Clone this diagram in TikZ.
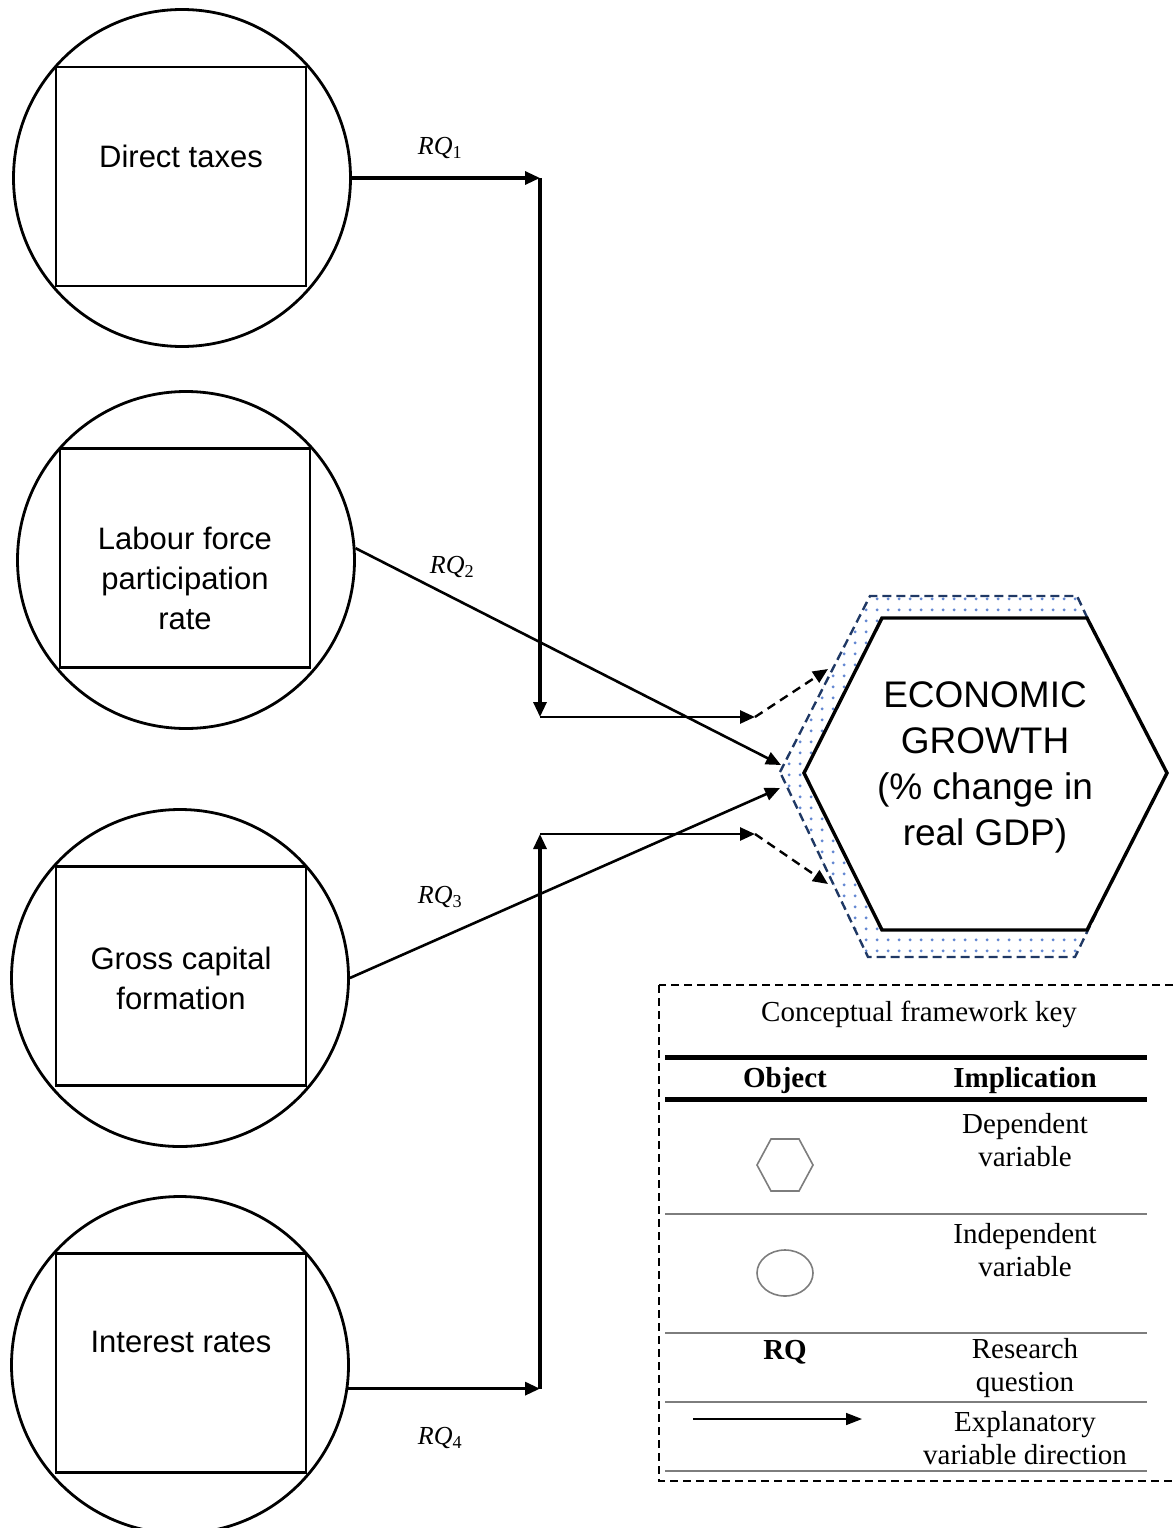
\documentclass[tikz,border=0pt]{standalone}
\usepackage{fontspec}
\setmainfont{Liberation Serif}
\setsansfont{Liberation Sans}
\usepackage{tikz}
\usetikzlibrary{arrows.meta,positioning,calc,patterns.meta}
\definecolor{hexnavy}{RGB}{31,56,100}
\definecolor{dotblue}{RGB}{100,136,210}
\definecolor{keygray}{RGB}{125,125,125}
\tikzdeclarepattern{
  name=gdots,
  type=colored,
  bounding box={(0pt,0pt) and (10.6pt,10.6pt)},
  tile size={(10.6pt,10.6pt)},
  code={\fill[dotblue] (5.3pt,5.3pt) circle (1.6pt);}
}
\tikzset{
  ivar/.style={circle, draw, line width=2.8pt, minimum size=337pt, inner sep=0pt},
  vbox/.style={draw, line width=2.2pt, minimum width=250pt, minimum height=219pt, inner sep=0pt},
  vtxt/.style={font=\sffamily\fontsize{31}{40}\selectfont, align=center, inner sep=0pt},
  rqa/.style={-{Triangle[length=15pt, width=13pt]}, line width=3.2pt},
  rqd/.style={rqa, line width=2.4pt, dash pattern=on 9pt off 6pt},
  rql/.style={font=\fontsize{26}{30}\selectfont, inner sep=0pt},
  hexout/.style={hexnavy, line width=2.4pt, dash pattern=on 9pt off 5pt, pattern=gdots},
  hexin/.style={draw=black, fill=white, line width=3.4pt, line join=miter},
  egtxt/.style={font=\sffamily\fontsize{37}{46}\selectfont, align=center, inner sep=0pt},
  ktxt/.style={font=\fontsize{29}{33}\selectfont, align=center, inner sep=0pt},
  kbold/.style={ktxt, font=\fontsize{29}{33}\selectfont\bfseries},
  krule/.style={keygray, line width=2pt},
  kthick/.style={line width=5pt},
  kicon/.style={keygray, line width=1.6pt},
  karr/.style={-{Triangle[length=16pt, width=12pt]}, line width=1.6pt},
}

\begin{document}
\begin{tikzpicture}[x=1pt, y=-1pt]
\useasboundingbox (0,0) rectangle (1173,1528);
\node[ivar] (dt) at (182,178) {};
\node[vbox] (dtbox) at (181,176.5) {};
\node[vtxt] (dtlab) at (181,156) {Direct taxes};
\node[ivar] (lf) at (186,560) {};
\node[vbox] (lfbox) at (185,558) {};
\node[vtxt] (lflab) at (185,578) {Labour force\\participation\\rate};
\node[ivar] (gc) at (180,978) {};
\node[vbox] (gcbox) at (181,976) {};
\node[vtxt] (gclab) at (181,978) {Gross capital\\formation};
\node[ivar] (ir) at (180,1365) {};
\node[vbox] (irbox) at (181,1363) {};
\node[vtxt] (irlab) at (181,1342) {Interest rates};

\draw[hexout] (780,772) -- (870,596) -- (1077,596) -- (1162,776) -- (1075,957) -- (868,957) -- cycle;
\draw[hexin] (804,773) -- (882,618) -- (1087,618) -- (1167,773) -- (1087,930) -- (882,930) -- cycle;
\node[egtxt] (eg) at (985,767) {ECONOMIC\\GROWTH\\(\% change in\\real GDP)};

\coordinate (j1) at (540,178);
\coordinate (j2) at (540,717);
\coordinate (m1) at (755,717);
\coordinate (t1) at (828,669);
\coordinate (j4) at (ir.-8 -| j1);
\coordinate (j3) at (540,834);
\coordinate (m2) at (755,834);
\coordinate (t4) at (828,884);
\coordinate (t2) at (781,765);
\coordinate (t3) at (780,788);

\draw[rqa] (dt.east) -- (j1);
\draw[rqa] (j1) -- (j2);
\draw[rqa, line width=2.6pt] (j2) -- (m1);
\draw[rqd] (m1) -- (t1);
\draw[rqa, line width=2.6pt] (lf.4) -- (t2);
\draw[rqa, line width=2.6pt] (gc.east) -- (t3);
\draw[rqa] (ir.-8) -- (j4);
\draw[rqa] (j4) -- (j3);
\draw[rqa, line width=2.6pt] (j3) -- (m2);
\draw[rqd] (m2) -- (t4);
\node[rql] (rq1) at (440,148) {\textit{RQ}\textsubscript{1}};
\node[rql] (rq2) at (452,567) {\textit{RQ}\textsubscript{2}};
\node[rql] (rq3) at (440,897) {\textit{RQ}\textsubscript{3}};
\node[rql] (rq4) at (440,1438) {\textit{RQ}\textsubscript{4}};

\draw[line width=1.5pt, dash pattern=on 8pt off 5pt] (659,985) rectangle (1200,1481);
\node[ktxt] (keyttl) at (919,1014) {Conceptual framework key};
\draw[kthick] (665,1057) -- (1147,1057);
\node[kbold] (kobj) at (785,1081) {Object};
\node[kbold] (kimp) at (1025,1081) {Implication};
\draw[kthick] (665,1099) -- (1147,1099);
\draw[kicon] (757,1165) -- (771,1139) -- (799,1139) -- (813,1165) -- (799,1191) -- (771,1191) -- cycle;
\node[ktxt] (kdep) at (1025,1140) {Dependent\\variable};
\draw[krule] (665,1214) -- (1147,1214);
\draw[kicon] (785,1273) ellipse [x radius=28, y radius=23];
\node[ktxt] (kind) at (1025,1250) {Independent\\variable};
\draw[krule] (665,1333) -- (1147,1333);
\node[kbold] (krq) at (785,1352) {RQ};
\node[ktxt] (kres) at (1025,1368) {Research\\question};
\draw[krule] (665,1402) -- (1147,1402);
\coordinate (ka1) at (693,1419);
\coordinate (ka2) at (862,1419);
\draw[karr] (ka1) -- (ka2);
\node[ktxt] (kexp) at (1025,1438) {Explanatory\\variable direction};
\draw[krule] (665,1471) -- (1147,1471);
\end{tikzpicture}
\end{document}
